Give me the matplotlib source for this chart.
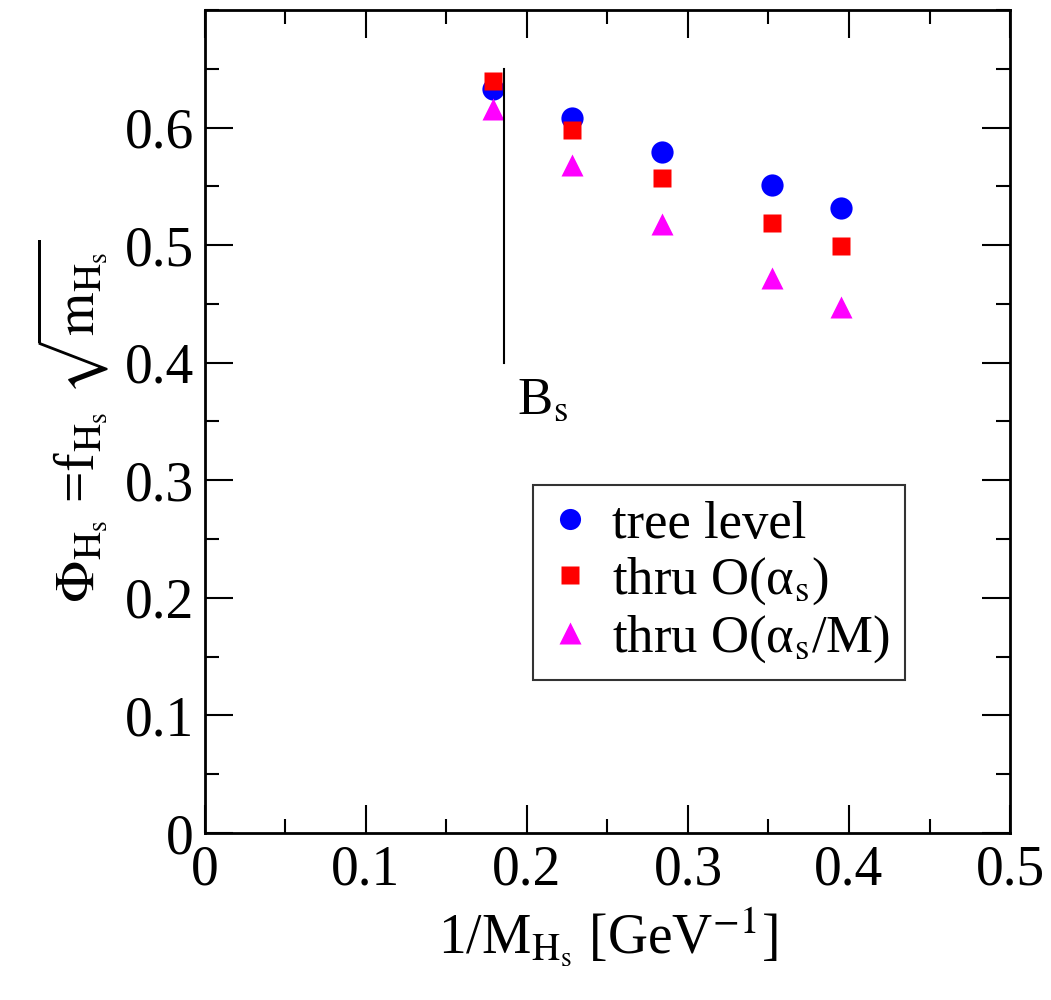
import matplotlib
matplotlib.use("Agg")
import matplotlib.pyplot as plt
from matplotlib.ticker import MultipleLocator

plt.rcParams['font.family'] = ['Liberation Serif', 'DejaVu Serif']
plt.rcParams['mathtext.fontset'] = 'stix'

# inverse heavy-strange meson mass [GeV^-1]
inv_mass = [0.179, 0.228, 0.284, 0.352, 0.395]

# decay constant combination at each order
tree_level = [0.633, 0.608, 0.579, 0.551, 0.532]
thru_alpha = [0.640, 0.598, 0.557, 0.519, 0.499]
thru_alpha_m = [0.616, 0.568, 0.518, 0.472, 0.447]

bs_x = 0.186
bs_range = [0.400, 0.650]

fig = plt.figure(figsize=(10.51, 10.0), dpi=100)
ax = fig.add_axes([0.195, 0.167, 0.766, 0.823])

ax.plot(inv_mass, tree_level, 'o', color='#0000ff', ms=16, mec='none', label='tree level')
ax.plot(inv_mass, thru_alpha, 's', color='#ff0000', ms=13.5, mec='none', label='thru O(α$_{\\mathrm{s}}$)')
ax.plot(inv_mass, thru_alpha_m, '^', color='#ff00ff', ms=16, mec='none', label='thru O(α$_{\\mathrm{s}}$/M)')

# physical B_s point marker
ax.plot([bs_x, bs_x], bs_range, color='black', lw=1.5)
ax.text(bs_x + 0.008, 0.368, r'B$_{\mathrm{s}}$', fontsize=38, va='center', ha='left')

ax.set_xlim(0, 0.5)
ax.set_ylim(0, 0.7)
ax.set_xticks([0, 0.1, 0.2, 0.3, 0.4, 0.5])
ax.set_xticklabels(['0', '0.1', '0.2', '0.3', '0.4', '0.5'])
ax.set_yticks([0, 0.1, 0.2, 0.3, 0.4, 0.5, 0.6])
ax.set_yticklabels(['0', '0.1', '0.2', '0.3', '0.4', '0.5', '0.6'])
ax.xaxis.set_minor_locator(MultipleLocator(0.05))
ax.yaxis.set_minor_locator(MultipleLocator(0.05))
ax.tick_params(which='both', direction='in', top=True, right=True, width=1.5)
ax.tick_params(which='major', length=20, labelsize=40, pad=8)
ax.tick_params(which='minor', length=10)
for s in ax.spines.values():
    s.set_linewidth(2)

ax.set_xlabel(r'1/M$_{\mathrm{H_s}}$ [GeV$^{\mathrm{-1}}$]', fontsize=40, labelpad=6)
ax.set_ylabel(r'$\mathrm{\Phi_{H_s}}$ =f$_{\mathrm{H_s}}$ $\sqrt{\mathrm{m_{H_s}}}$', fontsize=40, labelpad=10)

leg = ax.legend(loc='upper left', bbox_to_anchor=(0.407, 0.423), borderaxespad=0,
                fontsize=38, frameon=True, fancybox=False, edgecolor='black',
                handletextpad=0.4, borderpad=0.3, labelspacing=0.12,
                handlelength=0.8, markerscale=0.95)
leg.get_frame().set_linewidth(1.5)

fig.savefig('out.png', dpi=100)
